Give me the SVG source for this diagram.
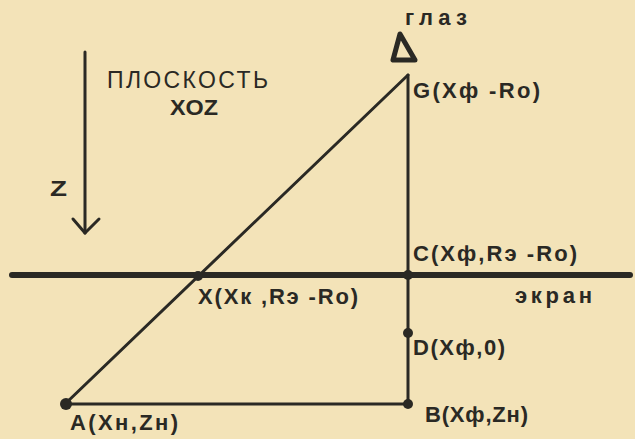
<svg xmlns="http://www.w3.org/2000/svg" width="635" height="439" viewBox="0 0 635 439">
<defs>
<style>
.ln{stroke:#2a2924;stroke-width:3;fill:none;stroke-linecap:round;stroke-linejoin:round}
.scr{stroke:#2a2924;stroke-width:6;fill:none;stroke-linecap:round}
.dot{fill:#2a2924}
.t{font-family:"Liberation Sans",Arial,sans-serif;font-weight:bold;font-size:22px;fill:#2a2924}
</style>
</defs>
<rect width="635" height="439" fill="#f3e3b8"/>
<g id="connectors">
<line class="scr" x1="12" y1="275" x2="630" y2="275"/>
<line class="ln" x1="65" y1="404" x2="408" y2="75"/>
<line class="ln" x1="65" y1="404" x2="408" y2="404"/>
<line class="ln" x1="408" y1="75" x2="408" y2="404"/>
<line class="ln" x1="85" y1="52" x2="85" y2="233"/>
<polyline class="ln" points="73,219 85,233 99,219"/>
</g>
<g id="eye">
<polygon points="400,34 393,60 415,60" fill="none" stroke="#2a2924" stroke-width="5" stroke-linejoin="round"/>
<text class="t" x="405" y="25" textLength="62" lengthAdjust="spacing">глаз</text>
</g>
<g id="plane-label">
<text class="t" x="107" y="88" textLength="161" lengthAdjust="spacing" style="font-weight:normal;font-size:23px">ПЛОСКОСТЬ</text>
<text class="t" x="170" y="115" textLength="48" lengthAdjust="spacingAndGlyphs">XOZ</text>
<text class="t" x="50" y="196" textLength="17" lengthAdjust="spacingAndGlyphs">Z</text>
</g>
<g id="G">
<text class="t" x="413" y="98" textLength="127" lengthAdjust="spacing">G(Xф -Ro)</text>
</g>
<g id="C">
<circle class="dot" cx="408" cy="275" r="5"/>
<text class="t" x="413" y="261" textLength="164" lengthAdjust="spacing">C(Xф,Rэ -Ro)</text>
</g>
<g id="screen-label">
<text class="t" x="515" y="303" textLength="77" lengthAdjust="spacing">экран</text>
</g>
<g id="X">
<circle class="dot" cx="198" cy="276" r="5"/>
<text class="t" x="198" y="304" textLength="160" lengthAdjust="spacing">X(Xк ,Rэ -Ro)</text>
</g>
<g id="D">
<circle class="dot" cx="408" cy="333" r="5"/>
<text class="t" x="413" y="355" textLength="92" lengthAdjust="spacing">D(Xф,0)</text>
</g>
<g id="B">
<circle class="dot" cx="408" cy="404" r="5"/>
<text class="t" x="425" y="422" textLength="103" lengthAdjust="spacing">B(Xф,Zн)</text>
</g>
<g id="A">
<circle class="dot" cx="66" cy="404" r="6"/>
<text class="t" x="70" y="430" textLength="108" lengthAdjust="spacing">A(Xн,Zн)</text>
</g>
</svg>
